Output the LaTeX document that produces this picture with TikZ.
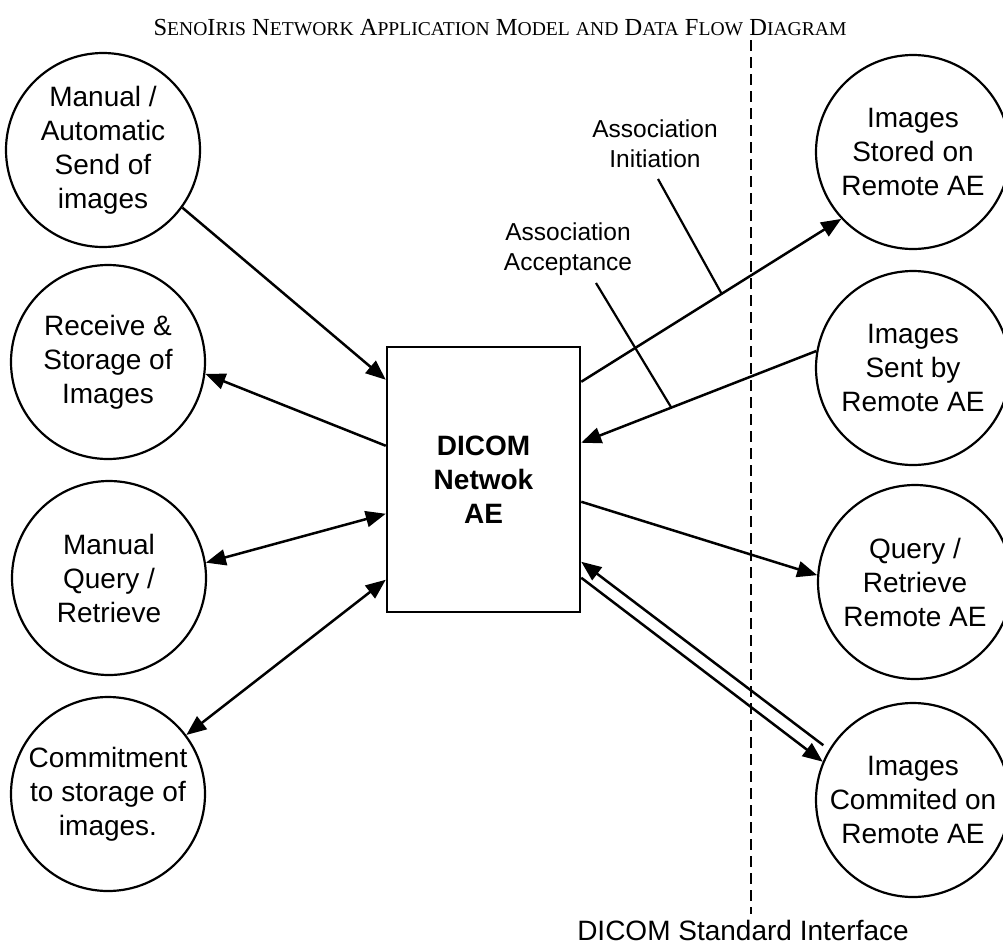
\documentclass[tikz,border=0pt]{standalone}
\usepackage{fontspec}
\setmainfont{Liberation Sans}
\newfontfamily\titlefont{Liberation Serif}
\usetikzlibrary{arrows.meta}
\newcommand\mysc[1]{{\fontsize{19.6}{22}\selectfont #1}}
\begin{document}
\begin{tikzpicture}[x=1pt,y=-1pt,
  proc/.style={circle,draw,line width=2.2pt,minimum size=194pt,inner sep=0pt,align=center,font=\fontsize{28}{34}\selectfont},
  aebox/.style={rectangle,draw,line width=2.5pt,minimum width=193pt,minimum height=265pt,inner sep=0pt,align=center,font=\bfseries\fontsize{28}{34}\selectfont},
  flow/.style={line width=2.5pt,-{Triangle[length=20pt,width=16pt]}},
  bflow/.style={line width=2.5pt,{Triangle[length=20pt,width=16pt]}-{Triangle[length=20pt,width=16pt]}},
  lead/.style={line width=2.2pt},
  lbl/.style={align=center,font=\fontsize{24.5}{30}\selectfont,inner sep=0pt},
  iface/.style={line width=2.2pt,dash pattern=on 11pt off 6pt}]
\useasboundingbox (0,0) rectangle (1003,948);
% title
\node[font=\titlefont\fontsize{24.5}{28}\selectfont,anchor=base] (title) at (500,35)
  {S\mysc{ENO}I\mysc{RIS} N\mysc{ETWORK} A\mysc{PPLICATION} M\mysc{ODEL} \mysc{AND} D\mysc{ATA} F\mysc{LOW} D\mysc{IAGRAM}};
% left processes
\node[proc] (c1) at (103,150) {Manual /\\Automatic\\Send of\\images};
\node[proc] (c2) at (108,362) {Receive \&\\Storage of\\Images};
\node[proc] (c3) at (109,578) {Manual\\Query /\\Retrieve};
\node[proc] (c4) at (108,794) {Commitment\\to storage of\\images.};
% right processes
\node[proc] (r1) at (913,152) {Images\\Stored on\\Remote AE};
\node[proc] (r2) at (913,368) {Images\\Sent by\\Remote AE};
\node[proc] (r3) at (915,582) {Query /\\Retrieve\\Remote AE};
\node[proc] (r4) at (913,800) {Images\\Commited on\\Remote AE};
% central AE
\node[aebox] (ae) at (483.5,479.5) {DICOM\\Netwok\\AE};
% left flows
\draw[flow] (c1.-36) -- ([yshift=-34pt]ae.north west);
\draw[flow] ([yshift=-100pt]ae.north west) -- (c2.-7);
\draw[bflow] (c3.9) -- ([yshift=-168pt]ae.north west);
\draw[bflow] (c4.37) -- ([yshift=-234pt]ae.north west);
% right flows
\draw[flow] ([yshift=-36pt]ae.north east) -- coordinate[pos=0.54] (ai) (r1.-137);
\draw[flow] (r2.170) -- coordinate[pos=0.617] (aa) ([yshift=-97pt]ae.north east);
\draw[flow] ([yshift=-156pt]ae.north east) -- (r3.176);
\draw[flow,shorten <=7pt] (r4.149) -- ([yshift=-216pt]ae.north east);
\draw[flow] ([yshift=-232pt]ae.north east) -- (r4.157);
% association labels
\node[lbl] (li) at (655,144) {Association\\Initiation};
\node[lbl] (la) at (568,249) {Association\\Acceptance};
\coordinate (lie) at (658,179);
\coordinate (lae) at (596,283);
\draw[lead] (lie) -- (ai);
\draw[lead] (lae) -- (aa);
% interface boundary
\coordinate (dtop) at (751,40);
\coordinate (dbot) at (751,914);
\draw[iface] (dtop) -- (dbot);
\node[font=\fontsize{28}{34}\selectfont,anchor=base] (si) at (743,940) {DICOM Standard Interface};
\end{tikzpicture}
\end{document}
